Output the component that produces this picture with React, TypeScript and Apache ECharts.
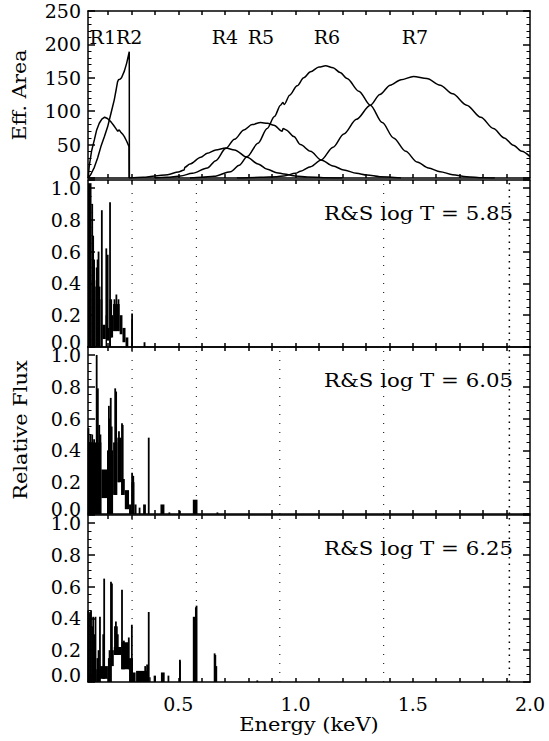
import React, { useEffect, useRef } from 'react';
import * as echarts from 'echarts';

const FONT = '"DejaVu Serif", serif';

// ---- Top panel: effective area curves [energy keV, area] ----
const R1 = [[0.116,0],[0.120,17],[0.130,40],[0.142,57],[0.152,72],[0.163,82],[0.174,88],[0.186,91],[0.198,89],[0.213,84],[0.224,79],[0.234,74],[0.242,70],[0.248,72],[0.254,69],[0.262,66],[0.270,62],[0.280,55],[0.290,47],[0.2905,0]];
const R2 = [[0.116,0],[0.128,6],[0.142,16],[0.156,30],[0.170,47],[0.185,62],[0.199,77],[0.213,97],[0.227,117],[0.236,134],[0.241,144],[0.245,147],[0.252,148],[0.258,150],[0.270,160],[0.280,172],[0.291,189],[0.2915,0]];
const R4 = [[0.29,0],[0.35,1],[0.40,3],[0.455,5],[0.50,9],[0.525,12],[0.528,16],[0.55,21],[0.596,31],[0.624,37],[0.66,42],[0.702,45],[0.74,42],[0.794,31],[0.84,21],[0.88,13],[0.92,8],[0.95,6],[1.00,3],[1.05,1.5],[1.12,0.5],[1.2,0]];
const R5 = [[0.40,0],[0.45,1],[0.51,3],[0.56,7],[0.624,15],[0.66,26],[0.702,44],[0.74,58],[0.78,72],[0.815,80],[0.851,83],[0.88,82],[0.908,79],[0.943,70],[0.947,74],[0.96,72],[0.993,62],[1.021,50],[1.064,40],[1.109,27],[1.16,18],[1.206,12],[1.26,7],[1.305,4.5],[1.36,2],[1.45,0]];
const R6 = [[0.55,0],[0.60,1],[0.652,2.5],[0.723,9.5],[0.76,19],[0.794,32],[0.84,52],[0.879,74],[0.91,92],[0.936,109],[0.946,113],[0.952,110],[0.975,124],[1.007,138],[1.035,150],[1.064,159],[1.10,166],[1.128,168],[1.16,165],[1.19,158],[1.22,149],[1.27,130],[1.319,109],[1.37,83],[1.418,60],[1.47,40],[1.518,24],[1.567,15],[1.617,9.5],[1.67,5],[1.73,2],[1.80,0.5],[1.85,0]];
const R7 = [[0.75,0],[0.85,1],[0.92,2],[0.95,3],[1.0,7],[1.021,10],[1.065,17],[1.109,27],[1.16,46],[1.206,66],[1.26,88],[1.319,109],[1.36,125],[1.404,139],[1.45,147],[1.503,152],[1.56,149],[1.617,139],[1.67,126],[1.73,109],[1.79,91],[1.844,74],[1.89,60],[1.929,49],[1.965,40],[2.0,32]];
const BAND_CURVES = [R1, R2, R4, R5, R6, R7];
const BAND_LABELS = ['R1R2', 'R4', 'R5', 'R6', 'R7'];

// ---- Model spectra ----
// blended (unresolved) emission: [E start, E end, flux low, flux high]
const BLEND_585 = [[0.115,0.130,0,1.03],[0.130,0.146,0,0.42],[0.146,0.168,0,0.38],[0.168,0.176,0,0.3],[0.176,0.190,0.05,0.14],[0.190,0.196,0,0.2],[0.196,0.206,0.04,0.12],[0.206,0.212,0,0.3],[0.212,0.222,0.06,0.2],[0.222,0.250,0.1,0.27],[0.250,0.262,0.08,0.2],[0.262,0.275,0.03,0.12],[0.275,0.287,0,0.06],[0.300,0.307,0,0.17],[0.352,0.360,0,0.03]];
// resolved lines: [E, flux base, flux peak]
const LINES_585 = [[0.133,0,0.9],[0.137,0,0.7],[0.141,0,0.55],[0.152,0,0.5],[0.156,0,0.55],[0.160,0,0.6],[0.174,0,0.86],[0.193,0.05,0.62],[0.199,0.05,0.58],[0.209,0,0.91],[0.214,0.06,0.3],[0.228,0.1,0.3],[0.236,0.1,0.33],[0.245,0.1,0.3],[0.303,0,0.21]];
const BLEND_605 = [[0.115,0.150,0,0.45],[0.150,0.172,0,0.45],[0.172,0.196,0.1,0.28],[0.196,0.222,0,0.4],[0.222,0.240,0.12,0.45],[0.240,0.258,0.2,0.48],[0.258,0.272,0.12,0.22],[0.272,0.290,0.03,0.15],[0.290,0.300,0,0.06],[0.300,0.313,0,0.2],[0.313,0.322,0,0.06],[0.350,0.362,0,0.06],[0.424,0.441,0,0.06],[0.562,0.582,0,0.09]];
const LINES_605 = [[0.117,0,0.54],[0.125,0,0.5],[0.133,0,0.5],[0.141,0,0.47],[0.152,0,1.0],[0.157,0,0.79],[0.163,0,0.56],[0.168,0,0.5],[0.204,0,0.68],[0.208,0,0.6],[0.212,0,0.73],[0.216,0,0.55],[0.231,0.12,0.79],[0.235,0.12,0.77],[0.247,0.2,0.52],[0.260,0.12,0.57],[0.263,0.12,0.56],[0.303,0,0.26],[0.308,0,0.24],[0.335,0,0.04],[0.374,0,0.48],[0.462,0,0.01],[0.507,0,0.02],[0.667,0,0.01]];
const BLEND_625 = [[0.115,0.150,0,0.05],[0.150,0.165,0,0.08],[0.165,0.200,0.02,0.1],[0.200,0.212,0,0.15],[0.212,0.225,0.1,0.2],[0.225,0.258,0.17,0.22],[0.258,0.290,0.08,0.25],[0.290,0.307,0,0.15],[0.307,0.318,0,0.06],[0.320,0.372,0,0.07],[0.376,0.382,0,0.03],[0.395,0.405,0,0.04],[0.426,0.442,0,0.06],[0.505,0.511,0,0.13],[0.562,0.580,0,0.41],[0.653,0.666,0,0.1]];
const LINES_625 = [[0.116,0,0.45],[0.119,0,0.43],[0.124,0,0.44],[0.128,0,0.45],[0.133,0,0.35],[0.137,0,0.41],[0.142,0,0.3],[0.147,0,0.41],[0.155,0,0.15],[0.160,0,0.2],[0.166,0,0.41],[0.180,0.02,0.3],[0.184,0.02,0.65],[0.207,0,0.2],[0.213,0,0.63],[0.217,0.1,0.62],[0.230,0.17,0.35],[0.234,0.17,0.38],[0.238,0.17,0.35],[0.242,0.17,0.3],[0.260,0.08,0.58],[0.268,0.08,0.26],[0.289,0.08,0.28],[0.302,0,0.36],[0.359,0,0.1],[0.367,0,0.11],[0.374,0,0.44],[0.458,0,0.04],[0.507,0,0.14],[0.575,0,0.47],[0.578,0,0.48],[0.655,0,0.18],[0.658,0,0.17],[0.837,0,0.01]];
const BLENDS = [BLEND_585, BLEND_605, BLEND_625];
const LINES = [LINES_585, LINES_605, LINES_625];
const TEMP_LABELS = ['R&S log T = 5.85', 'R&S log T = 6.05', 'R&S log T = 6.25'];

// dotted band-boundary energies per spectrum panel
const EDGES_585 = [0.303, 0.577, 1.376, 1.912];
const EDGES_OTHER = [0.303, 0.577, 0.933, 1.376, 1.912];
const EDGES = [EDGES_585, EDGES_OTHER, EDGES_OTHER];

// axes
const X_MIN = 0.115;
const X_MAX = 2.0;
const X_LABELS = [0.5, 1.0, 1.5, 2.0];
const X_TICKS = [0.2, 0.3, 0.4, 0.5, 0.6, 0.7, 0.8, 0.9, 1.0, 1.1, 1.2, 1.3, 1.4, 1.5, 1.6, 1.7, 1.8, 1.9];
const AREA_MAX = 250;
const AREA_STEP = 50;
const FLUX_MAX = 1.05;
const FLUX_STEP = 0.2;

export default function App() {
  const ref = useRef<HTMLDivElement>(null);
  useEffect(() => {
    if (!ref.current) return;
    const chart = echarts.init(ref.current, undefined, { renderer: 'svg' });
    const black = '#000';
    const tops = [11, 180, 347, 515];
    const H = 167;
    const lineStyle = { color: black, width: 1.5 };
    const grid = tops.map((t) => ({ left: 88, width: 442, top: t, height: H, show: false }));
    const xAxis: any[] = [];
    const yAxis: any[] = [];
    tops.forEach((_, i) => {
      ['bottom', 'top'].forEach((pos) => {
        xAxis.push({
          gridIndex: i, type: 'value', min: X_MIN, max: X_MAX, position: pos,
          axisLine: { show: true, onZero: false, lineStyle },
          axisTick: { show: true, inside: true, length: 4, customValues: X_TICKS, lineStyle },
          axisLabel: {
            show: i === 3 && pos === 'bottom', customValues: X_LABELS,
            formatter: (v: number) => v.toFixed(1), color: black, fontFamily: FONT, fontSize: 19, margin: 12,
          },
          splitLine: { show: false },
        });
      });
      ['left', 'right'].forEach((pos) => {
        const top = i === 0;
        yAxis.push({
          gridIndex: i, type: 'value', min: 0, max: top ? AREA_MAX : FLUX_MAX, interval: top ? AREA_STEP : FLUX_STEP,
          position: pos,
          axisLine: { show: true, onZero: false, lineStyle },
          axisTick: { show: true, inside: true, length: 7, lineStyle },
          minorTick: { show: true, splitNumber: top ? 5 : 4, length: 3.5, lineStyle: { color: black, width: 1 } },
          axisLabel: {
            show: pos === 'left', showMaxLabel: top, color: black, fontFamily: FONT, fontSize: 19, margin: 7,
            formatter: (v: number) => {
              const s = top ? String(v) : v.toFixed(1);
              return v === 0 ? `{z|${s}}` : s;
            },
            rich: { z: { fontFamily: FONT, fontSize: 19, color: black, padding: [0, 0, i === 3 ? 14 : 10, 0] } },
          },
          splitLine: { show: false },
          minorSplitLine: { show: false },
        });
      });
    });
    const series: any[] = [];
    BAND_CURVES.forEach((c, k) => {
      series.push({
        type: 'line', xAxisIndex: 0, yAxisIndex: 0, data: c, showSymbol: false, symbol: 'none',
        smooth: k < 2 ? false : 0.3, smoothMonotone: k < 2 ? undefined : 'x',
        lineStyle: { color: black, width: 1.5 }, clip: true, silent: true,
      });
    });
    BLENDS.forEach((b, k) => {
      const ax = (k + 1) * 2;
      series.push({
        type: 'custom', xAxisIndex: ax, yAxisIndex: ax, data: b, silent: true,
        encode: { x: [0, 1], y: [2, 3] },
        renderItem: (_p: any, api: any) => {
          const a = api.coord([api.value(0), api.value(3)]);
          const c = api.coord([api.value(1), api.value(2)]);
          return {
            type: 'rect',
            shape: { x: a[0], y: a[1], width: Math.max(c[0] - a[0], 1), height: Math.max(c[1] - a[1], 1.5) },
            style: { fill: black },
          };
        },
      });
      series.push({
        type: 'custom', xAxisIndex: ax, yAxisIndex: ax, data: LINES[k], silent: true,
        encode: { x: 0, y: [1, 2] },
        renderItem: (_p: any, api: any) => {
          const a = api.coord([api.value(0), api.value(1)]);
          const c = api.coord([api.value(0), api.value(2)]);
          return { type: 'line', shape: { x1: a[0], y1: a[1], x2: c[0], y2: c[1] }, style: { stroke: black, lineWidth: 1.8 } };
        },
      });
      const edges = EDGES[k];
      series.push({
        type: 'custom', xAxisIndex: ax, yAxisIndex: ax, data: edges.map((e) => [e]), silent: true,
        encode: { x: 0 },
        renderItem: (p: any, api: any) => {
          const a = api.coord([api.value(0), 0]);
          const c = api.coord([api.value(0), FLUX_MAX]);
          const last = p.dataIndex === edges.length - 1;
          return {
            type: 'line', shape: { x1: a[0], y1: a[1], x2: c[0], y2: c[1] },
            style: { stroke: black, lineWidth: last ? 1.5 : 1, lineDash: last ? [1.5, 5] : [1, 8] },
          };
        },
      });
    });
    const txt = (text: string, x: number, y: number, align: string, extra: any = {}) => ({
      type: 'text', x, y, ...extra,
      style: { text, fill: black, font: `19px ${FONT}`, textAlign: align, textVerticalAlign: 'middle' },
    });
    const bandX = [116, 225, 261, 327, 415];
    const graphic: any[] = [
      ...BAND_LABELS.map((t, k) => txt(t, bandX[k], 37, 'center')),
      ...TEMP_LABELS.map((t, k) => txt(t, 513, tops[k + 1] + 33, 'right', { scaleX: 1.12 })),
      txt('Eff. Area', 20, 95, 'center', { rotation: Math.PI / 2, scaleX: 1.08 }),
      txt('Relative Flux', 20, 430, 'center', { rotation: Math.PI / 2, scaleX: 1.1 }),
      txt('Energy (keV)', 309, 724, 'center', { scaleX: 1.1 }),
    ];
    chart.setOption({
      animation: false,
      backgroundColor: '#fff',
      grid, xAxis, yAxis, series, graphic,
    });
    return () => chart.dispose();
  }, []);
  return <div ref={ref} style={{ position: 'fixed', left: 0, top: 0, width: 549, height: 741, background: '#fff' }} />;
}
